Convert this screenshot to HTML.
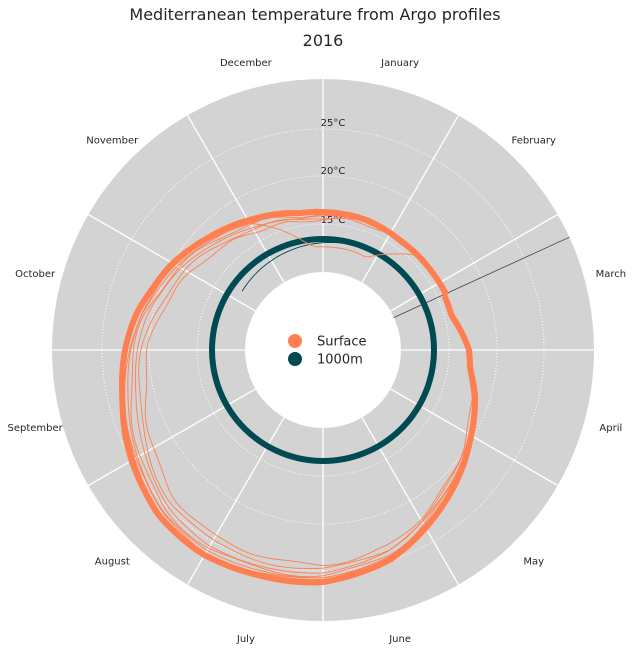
<!DOCTYPE html>
<html><head><meta charset="utf-8"><style>
html,body{margin:0;padding:0;background:#fff;}
svg{display:block;font-family:"DejaVu Sans","Liberation Sans",sans-serif;}
</style></head><body>
<svg id="s" width="635" height="652" viewBox="0 0 635 652" xmlns="http://www.w3.org/2000/svg">
<text x="315" y="20" font-size="16" text-anchor="middle" fill="#262626">Mediterranean temperature from Argo profiles</text>
<text x="323" y="46" font-size="16" text-anchor="middle" fill="#262626">2016</text>
<circle cx="323" cy="350" r="271" fill="#d3d3d3"/>
<g id="grid"></g>
<circle cx="323" cy="350" r="78" fill="#fff"/>
<g id="months" font-size="10" fill="#262626" text-anchor="middle"></g>
<text x="333" y="126" font-size="10" fill="#262626" text-anchor="middle">25°C</text>
<text x="333" y="174" font-size="10" fill="#262626" text-anchor="middle">20°C</text>
<text x="333" y="223" font-size="10" fill="#262626" text-anchor="middle">15°C</text>
<g id="series"></g>
<circle cx="295" cy="341" r="7" fill="#ff7f50"/>
<circle cx="295" cy="359" r="7" fill="#004a54"/>
<text x="317" y="345.5" font-size="13" fill="#262626">Surface</text>
<text x="317" y="363.5" font-size="13" fill="#262626">1000m</text>
</svg>
<script>
var cx=323,cy=350,NS="http://www.w3.org/2000/svg";
function P(a,r){var t=a*Math.PI/180;return [cx+r*Math.sin(t),cy-r*Math.cos(t)];}
function el(p,tag,at){var e=document.createElementNS(NS,tag);for(var k in at)e.setAttribute(k,at[k]);p.appendChild(e);return e;}
var g=document.getElementById("grid");
[126,174,221].forEach(function(r){el(g,"circle",{cx:cx,cy:cy,r:r,fill:"none",stroke:"#fff","stroke-width":1,"stroke-dasharray":"1,2"});});
for(var i=0;i<12;i++){var a=P(i*30,78),b=P(i*30,271);el(g,"line",{x1:a[0],y1:a[1],x2:b[0],y2:b[1],stroke:"#fff","stroke-width":1.3});}
var mg=document.getElementById("months");
var M=["January","February","March","April","May","June","July","August","September","October","November","December"];
for(var i=0;i<12;i++){var p=P(15+30*i,298);var t=el(mg,"text",{x:p[0],y:p[1]+4});t.textContent=M[i];}
var K=[[66,133],[75,133],[90,146],[97,148],[107,159],[121,172],[144,198],[162,220],[180,232],[194,234],[211,237],[225,233],[239,221],[257,206],[270,198],[281,190],[290,181],[300,173],[315,160],[331,149],[350,139],[360,138],[379,137],[395,134],[415,134],[426,135]];
function R(a){for(var i=0;i<K.length-1;i++){if(a>=K[i][0]&&a<=K[i+1][0]){var f=(a-K[i][0])/(K[i+1][0]-K[i][0]);return K[i][1]+f*(K[i+1][1]-K[i][1]);}}return K[K.length-1][1];}
function path(fn,a0,a1){var d="";for(var a=a0;a<=a1;a+=2){var p=P(a,fn(a));d+=(d?"L":"M")+p[0].toFixed(1)+","+p[1].toFixed(1);}return d;}
var sg=document.getElementById("series");
el(sg,"line",{x1:P(65.4,78)[0],y1:P(65.4,78)[1],x2:P(65.4,271)[0],y2:P(65.4,271)[1],stroke:"#444","stroke-width":0.8});
el(sg,"path",{d:path(function(a){return 100+(a-306)/74*10;},306,380),fill:"none",stroke:"#004a54","stroke-width":0.9});
el(sg,"circle",{cx:cx,cy:cy,r:111,fill:"none",stroke:"#004a54","stroke-width":6});
function s(a){var v=Math.sin((a-66)/360*Math.PI);return v*v;}
var offs=[[-4,1.3],[-9,2.1],[-13,0.7],[-18,1.7],[-24,2.6],[2,1.1]];
offs.forEach(function(o){el(sg,"path",{d:path(function(a){return R(a)+o[0]*s(a)+1.5*Math.sin(a*o[1]/10);},66,426),fill:"none",stroke:"#ff7f50","stroke-width":0.9});});
el(sg,"path",{d:path(function(a){var b=a<200?a+360:a;if(b<330)return R(a)-6*s(a);var f=Math.min(1,(b-330)/25),g2=Math.max(0,Math.min(1,(b-385)/20));return R(a)-f*(1-g2)*33-6*s(a);},66,426),fill:"none",stroke:"#ff7f50","stroke-width":0.9});
el(sg,"path",{d:path(R,66,426),fill:"none",stroke:"#ff7f50","stroke-width":6,"stroke-linejoin":"round"});
</script>
</body></html>
